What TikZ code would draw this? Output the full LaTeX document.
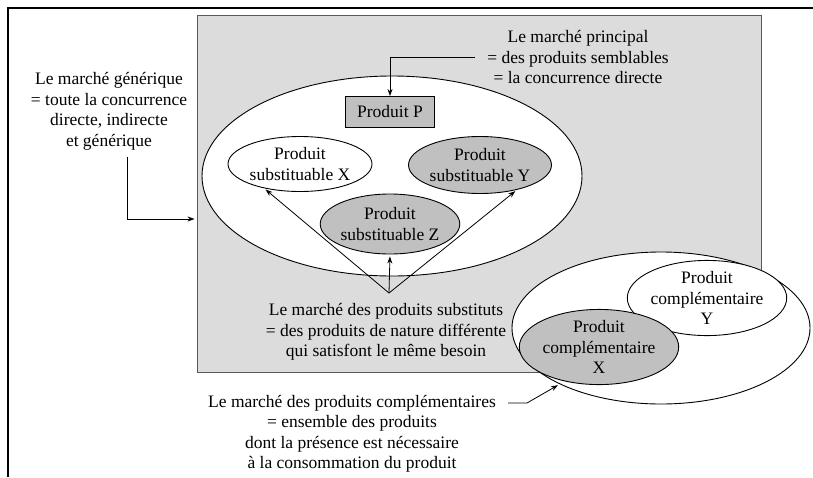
\documentclass[tikz,border=0pt]{standalone}
\usepackage{fontspec}
\setmainfont{Liberation Serif}
\usetikzlibrary{shapes.geometric,arrows.meta}
\definecolor{bggray}{HTML}{DCDCDC}
\definecolor{darkfill}{HTML}{C0C0C0}
\begin{document}
\begin{tikzpicture}[x=1pt,y=-1pt,
  txt/.style={align=center,font=\fontsize{17.5}{20.5}\selectfont,inner sep=0pt},
  ell/.style={ellipse,draw=black,line width=0.9pt,inner sep=0pt},
  lightell/.style={ell,fill=white},
  darkell/.style={ell,fill=darkfill},
  arr/.style={-{Stealth[length=7pt,width=5pt]},line width=0.8pt,shorten >=2pt}]
\useasboundingbox (0,0) rectangle (813,477);
\fill[white] (0,0) rectangle (813,477);
\draw[line width=1.5pt] (8,477) -- (8,8) -- (813,8);
% generic market
\node[draw=black!65, line width=0.9pt, fill=bggray, minimum width=564pt, minimum height=357pt, inner sep=0pt] (gen) at (479,193.5) {};
\node[lightell, minimum width=380pt, minimum height=200pt] (big) at (392,176) {};
\node[draw=black, line width=0.9pt, fill=darkfill, minimum width=89pt, minimum height=31pt, txt] (P) at (390,112) {Produit P};
\node[lightell, minimum width=144pt, minimum height=55pt, txt] (X) at (300,164) {Produit\\substituable X};
\node[darkell, minimum width=143pt, minimum height=57pt, txt] (Y) at (480,165) {Produit\\substituable Y};
\node[darkell, minimum width=139pt, minimum height=60pt, txt] (Z) at (390,224) {Produit\\substituable Z};
% texts
\node[txt] (prin) at (578,57) {Le marché principal\\= des produits semblables\\= la concurrence directe};
\node[txt] (subt) at (386,332) {Le marché des produits substituts\\= des produits de nature différente\\qui satisfont le même besoin};
\node[txt] (gtext) at (109,111.5) {Le marché générique\\= toute la concurrence\\directe, indirecte\\et générique};
% complementary market
\node[lightell, minimum width=298pt, minimum height=152pt] (comp) at (661,328) {};
\node[lightell, minimum width=142pt, minimum height=66pt, txt] (CY) at (707,298) {Produit\\complémentaire\\Y};
\node[darkell, minimum width=144pt, minimum height=66pt, txt] (CX) at (599,347) {Produit\\complémentaire\\X};
\node[txt] (ctext) at (352,434) {Le marché des produits complémentaires\\= ensemble des produits\\dont la présence est nécessaire\\à la consommation du produit};
% connectors
\coordinate (s) at (389,293);
\draw[arr] (s) -- (X.214);
\draw[arr] (s) -- (Y.326);
\draw[arr] (s) -- (Z.south);
\coordinate (pl) at (475,57);
\draw[arr,shorten >=0pt] (pl) -| (P.north);
\coordinate (g1) at (127,157);
\draw[arr] (g1) |- ([yshift=-25.5pt]gen.west);
\coordinate (c1) at (508,403);
\coordinate (c2) at (527,403);
\draw[arr] (c1) -- (c2) -- (comp.209);
\end{tikzpicture}
\end{document}
